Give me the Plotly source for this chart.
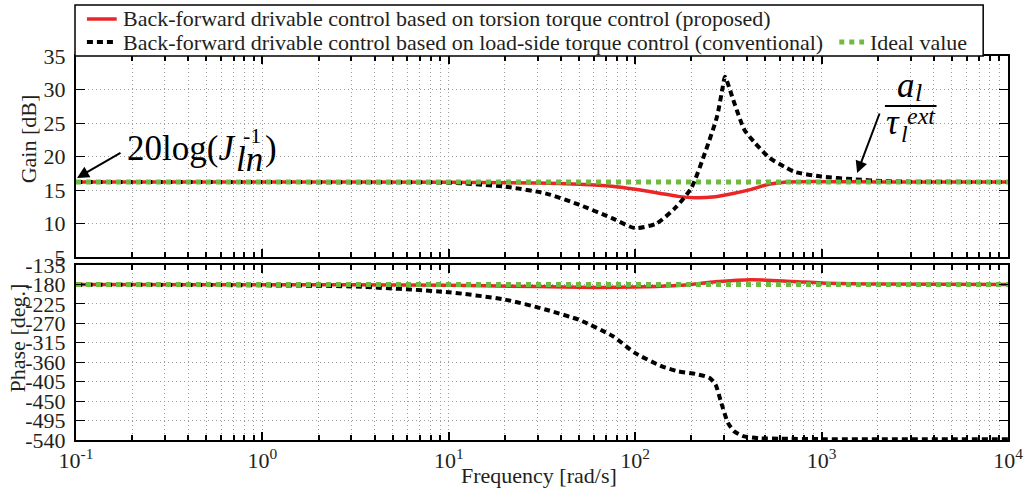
import plotly.graph_objects as go

# ---- frequency response data (frequency in rad/s) ----
# proposed: torsion torque control based back-forward drivable control
prop_gain_w = [0.1, 1, 10, 30, 50, 75, 100, 130, 170, 210, 260, 330, 420, 520, 650, 800, 1000, 2000, 10000]
prop_gain_db = [16.2, 16.2, 16.15, 16.05, 15.85, 15.55, 15.1, 14.6, 14.05, 13.85, 13.95, 14.45, 15.1, 15.85, 16.2, 16.25, 16.25, 16.2, 16.2]

prop_phase_w = [0.1, 1, 10, 30, 62, 100, 160, 200, 270, 420, 700, 1000, 2000, 10000]
prop_phase_deg = [-180, -180.5, -182, -185, -187, -186, -183, -180, -174, -169, -173, -176.5, -179, -180]

# conventional: load-side torque control based back-forward drivable control
conv_gain_w = [0.1, 1, 3, 10, 20, 33, 50, 75, 100, 130, 165, 200, 240, 275, 295, 303, 340, 385, 440, 525, 630, 715, 1000, 1500, 2100, 3000, 10000]
conv_gain_db = [16.2, 16.2, 16.15, 16.1, 15.5, 14.5, 12.8, 10.8, 9.3, 10.0, 12.4, 15.3, 21.0, 26.0, 30.4, 31.9, 28.0, 24.0, 22.0, 19.8, 18.5, 17.7, 17.0, 16.6, 16.35, 16.25, 16.2]

conv_phase_w = [0.1, 1, 3, 10, 20, 33, 50, 76, 100, 140, 170, 210, 250, 270, 290, 315, 340, 380, 460, 600, 1000, 10000]
conv_phase_deg = [-180.5, -182, -184.5, -198, -215, -238, -262, -300, -339, -370, -381, -387, -396, -412, -455, -501, -520, -531, -536, -537, -538, -538]

# ideal value
ideal_w = [0.1, 10000]
ideal_gain_db = [16.2, 16.2]
ideal_phase_deg = [-180, -180]

# axis ticks
freq_ticks = [0.1, 1, 10, 100, 1000, 10000]
freq_tick_text = ["10<sup>-1</sup>", "10<sup>0</sup>", "10<sup>1</sup>", "10<sup>2</sup>", "10<sup>3</sup>", "10<sup>4</sup>"]
freq_minor = [m * 10 ** e for e in range(-1, 4) for m in range(2, 10)]
gain_ticks = [5, 10, 15, 20, 25, 30, 35]
phase_ticks = [-540, -495, -450, -405, -360, -315, -270, -225, -180, -135]
phase_tick_text = [str(v) for v in phase_ticks]

legend_labels = [
    "Back-forward drivable control based on torsion torque control (proposed)",
    "Back-forward drivable control based on load-side torque control (conventional)",
    "Ideal value",
]

RED = "rgb(236,38,38)"
BLACK = "black"
GREEN = "rgb(112,186,68)"
FONT = "Liberation Serif, Times New Roman, serif"
TXT = "#231f20"
GRID = "#9c9c9c"

W, H = 1035, 494
L, R, T, B = 76, 20, 56, 54
PW, PH = W - L - R, H - T - B


def px(x):
    return (x - L) / PW


def py(y):
    return (H - B - y) / PH


fig = go.Figure()

styles = [
    dict(color=RED, width=3.5),
    dict(color=BLACK, width=4, dash="6px,4px"),
    dict(color=GREEN, width=5, dash="5px,5px"),
]

# gain traces
fig.add_trace(go.Scatter(x=prop_gain_w, y=prop_gain_db, mode="lines", line=dict(shape="spline", smoothing=0.8, **styles[0]), xaxis="x", yaxis="y", showlegend=False))
fig.add_trace(go.Scatter(x=conv_gain_w, y=conv_gain_db, mode="lines", line=dict(shape="spline", smoothing=0.6, **styles[1]), xaxis="x", yaxis="y", showlegend=False))
fig.add_trace(go.Scatter(x=ideal_w, y=ideal_gain_db, mode="lines", line=styles[2], xaxis="x", yaxis="y", showlegend=False))
# phase traces
fig.add_trace(go.Scatter(x=prop_phase_w, y=prop_phase_deg, mode="lines", line=dict(shape="spline", smoothing=0.8, **styles[0]), xaxis="x2", yaxis="y2", showlegend=False))
fig.add_trace(go.Scatter(x=conv_phase_w, y=conv_phase_deg, mode="lines", line=dict(shape="spline", smoothing=0.6, **styles[1]), xaxis="x2", yaxis="y2", showlegend=False))
fig.add_trace(go.Scatter(x=ideal_w, y=ideal_phase_deg, mode="lines", line=styles[2], xaxis="x2", yaxis="y2", showlegend=False))

grid = dict(showgrid=True, gridcolor=GRID, gridwidth=1, griddash="1px,3px")
frame = dict(showline=True, linecolor="black", linewidth=2, mirror="allticks", ticks="inside",
             tickcolor="black", zeroline=False)
tickfont = dict(family=FONT, size=22, color=TXT)

xcommon = dict(type="log", range=[-1, 4], tickvals=freq_ticks, ticklen=8, tickwidth=1.5,
               minor=dict(tickvals=freq_minor, ticks="inside", ticklen=5, tickcolor="black",
                          showgrid=True, gridcolor=GRID, gridwidth=1, griddash="1px,3px"),
               **grid, **frame)

gain_top = 1.0
gain_bottom = py(257)
phase_top = py(265)

fig.update_layout(
    width=W, height=H, autosize=False,
    margin=dict(l=L, r=R, t=T, b=B),
    paper_bgcolor="white", plot_bgcolor="white",
    font=dict(family=FONT, color=TXT),
    xaxis=dict(anchor="y", showticklabels=False, **xcommon),
    yaxis=dict(domain=[gain_bottom, gain_top], range=[5, 35], tickvals=gain_ticks, ticklen=9,
               tickfont=tickfont, ticklabelstandoff=4, **grid, **frame),
    xaxis2=dict(anchor="y2", ticktext=freq_tick_text, tickfont=tickfont, **xcommon),
    yaxis2=dict(domain=[0, phase_top], range=[-540, -135], tickvals=phase_ticks,
                ticktext=phase_tick_text, ticklen=9, tickfont=tickfont, ticklabelstandoff=4,
                **grid, **frame),
)

shapes = []
annotations = []

# legend box
shapes.append(dict(type="rect", xref="paper", yref="paper", x0=px(75), x1=px(990), y0=py(56), y1=py(5),
                   line=dict(color="black", width=1.5), fillcolor="white", layer="above"))
legend_rows = [(87, 117, 19, 0), (87, 117, 42, 1), (845, 870, 42, 2)]
text_x = [121, 121, 874]
for (x0, x1, yy, i), tx in zip(legend_rows, text_x):
    st = styles[i]
    shapes.append(dict(type="line", xref="paper", yref="paper", x0=px(x0), x1=px(x1), y0=py(yy), y1=py(yy),
                       line=dict(color=st["color"], width=st["width"], dash=st.get("dash", "solid")), layer="above"))
    annotations.append(dict(xref="paper", yref="paper", x=px(tx), y=py(yy), xanchor="left", yanchor="middle",
                            text=legend_labels[i], showarrow=False, font=dict(family=FONT, size=22, color=TXT)))

# axis titles
annotations.append(dict(xref="paper", yref="paper", x=px(28), y=py(139), text="Gain [dB]", textangle=-90,
                        showarrow=False, xanchor="center", yanchor="middle", font=dict(family=FONT, size=22, color=TXT)))
annotations.append(dict(xref="paper", yref="paper", x=px(17), y=py(338), text="Phase [deg.]", textangle=-90,
                        showarrow=False, xanchor="center", yanchor="middle", font=dict(family=FONT, size=22, color=TXT)))
annotations.append(dict(xref="paper", yref="paper", x=px(542), y=py(475), text="Frequency [rad/s]",
                        showarrow=False, xanchor="center", yanchor="middle", font=dict(family=FONT, size=22, color=TXT)))

# 20log(J_ln^-1) label
big = dict(family=FONT, size=35, color="black")
annotations += [
    dict(xref="paper", yref="paper", x=px(125), y=py(148), text="20log(<i>J</i>", showarrow=False,
         xanchor="left", yanchor="middle", font=big),
    dict(xref="paper", yref="paper", x=px(235), y=py(159), text="<i>ln</i>", showarrow=False,
         xanchor="left", yanchor="middle", font=big),
    dict(xref="paper", yref="paper", x=px(242), y=py(135), text="-1", showarrow=False,
         xanchor="left", yanchor="middle", font=dict(family=FONT, size=22, color="black")),
    dict(xref="paper", yref="paper", x=px(264), y=py(148), text=")", showarrow=False,
         xanchor="left", yanchor="middle", font=big),
    dict(xref="paper", yref="paper", x=px(77), y=py(178), text="", showarrow=True, ax=45, ay=-26,
         arrowhead=2, arrowsize=1.2, arrowwidth=2, arrowcolor="black"),
]

# a_l / tau_l^ext label
annotations += [
    dict(xref="paper", yref="paper", x=px(901), y=py(85), text="<i>a</i>", showarrow=False,
         xanchor="left", yanchor="middle", font=big),
    dict(xref="paper", yref="paper", x=px(919), y=py(93), text="<i>l</i>", showarrow=False,
         xanchor="left", yanchor="middle", font=dict(family=FONT, size=26, color="black")),
    dict(xref="paper", yref="paper", x=px(890), y=py(122), text="<i>τ</i>", showarrow=False,
         xanchor="left", yanchor="middle", font=big),
    dict(xref="paper", yref="paper", x=px(905), y=py(134), text="<i>l</i>", showarrow=False,
         xanchor="left", yanchor="middle", font=dict(family=FONT, size=24, color="black")),
    dict(xref="paper", yref="paper", x=px(911), y=py(116), text="<i>ext</i>", showarrow=False,
         xanchor="left", yanchor="middle", font=dict(family=FONT, size=24, color="black")),
    dict(xref="paper", yref="paper", x=px(863), y=py(173), text="", showarrow=True, ax=23, ay=-61,
         arrowhead=2, arrowsize=1.2, arrowwidth=2, arrowcolor="black"),
]
shapes.append(dict(type="line", xref="paper", yref="paper", x0=px(891), x1=px(943), y0=py(106), y1=py(106),
                   line=dict(color="black", width=2)))

fig.update_layout(shapes=shapes, annotations=annotations)

fig.write_html("out.html")
